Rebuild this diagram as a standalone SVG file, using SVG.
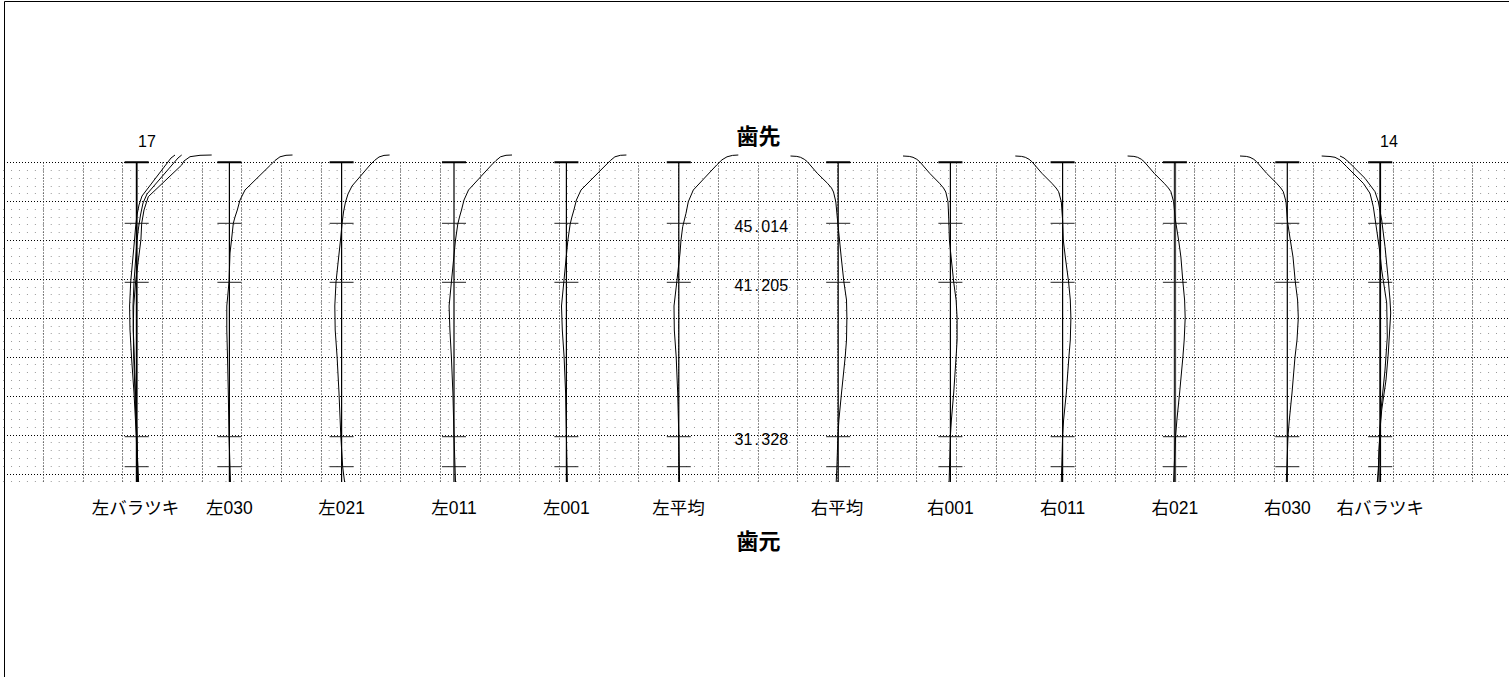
<svg xmlns="http://www.w3.org/2000/svg" width="1509" height="677" viewBox="0 0 1509 677">
<style>
.bg{fill:#fff}
.frame{fill:none;stroke:#000;stroke-width:1}
.gmaj{fill:none;stroke:#000;stroke-width:1;stroke-dasharray:1 2}
.gvmaj{fill:none;stroke:#222;stroke-width:1;stroke-dasharray:1 2}
.gmin{fill:none;stroke:#999;stroke-width:1;stroke-dasharray:1 6.941}
.axis{fill:none;stroke:#000;stroke-width:1.2}
.axisv{fill:none;stroke:#000;stroke-width:1.8}
.ttop{fill:none;stroke:#000;stroke-width:2}
.tick{fill:none;stroke:#222;stroke-width:1}
.crv{fill:none;stroke:#000;stroke-width:1;stroke-linejoin:round}
.lbl{font-family:"Liberation Sans","Noto Sans CJK JP",sans-serif;font-size:17.5px;fill:#000;text-anchor:middle}
.num{font-family:"Liberation Sans","Noto Sans CJK JP",sans-serif;font-size:16px;fill:#000}
.ttl{font-family:"Noto Sans CJK JP","Liberation Sans",sans-serif;font-size:22px;font-weight:bold;fill:#000;text-anchor:middle}
</style>
<rect class="bg" x="0" y="0" width="1509" height="677"/>
<path class="frame" d="M4.5,677V1.5H1509"/>
<g id="grid">
<path class="gmin" d="M3.1,170.5H1509M3.1,178.5H1509M3.1,186.5H1509M3.1,193.5H1509M3.1,209.5H1509M3.1,217.5H1509M3.1,224.5H1509M3.1,232.5H1509M3.1,248.5H1509M3.1,256.5H1509M3.1,263.5H1509M3.1,271.5H1509M3.1,287.5H1509M3.1,294.5H1509M3.1,302.5H1509M3.1,310.5H1509M3.1,326.5H1509M3.1,333.5H1509M3.1,341.5H1509M3.1,349.5H1509M3.1,364.5H1509M3.1,372.5H1509M3.1,380.5H1509M3.1,388.5H1509M3.1,403.5H1509M3.1,411.5H1509M3.1,419.5H1509M3.1,427.5H1509M3.1,442.5H1509M3.1,450.5H1509M3.1,458.5H1509M3.1,466.5H1509M3.1,481.5H1509"/>
<path class="gmaj" d="M4,162.5H1509M4,201.5H1509M4,240.5H1509M4,279.5H1509M4,318.5H1509M4,357.5H1509M4,396.5H1509M4,435.5H1509M4,474.5H1509"/>
<path class="gvmaj" d="M43.5,162.5V482M83.5,162.5V482M122.5,162.5V482M162.5,162.5V482M202.5,162.5V482M241.5,162.5V482M281.5,162.5V482M321.5,162.5V482M360.5,162.5V482M400.5,162.5V482M440.5,162.5V482M480.5,162.5V482M519.5,162.5V482M559.5,162.5V482M599.5,162.5V482M638.5,162.5V482M678.5,162.5V482M718.5,162.5V482M758.5,162.5V482M797.5,162.5V482M837.5,162.5V482M877.5,162.5V482M916.5,162.5V482M956.5,162.5V482M996.5,162.5V482M1035.5,162.5V482M1075.5,162.5V482M1115.5,162.5V482M1155.5,162.5V482M1194.5,162.5V482M1234.5,162.5V482M1274.5,162.5V482M1313.5,162.5V482M1353.5,162.5V482M1393.5,162.5V482M1433.5,162.5V482M1472.5,162.5V482"/>
</g>
<g id="axes">
<path class="axisv" d="M136.7,162.3V482M1380.2,162.3V482"/>
<path d="M1174.9,162.3V482" fill="none" stroke="#999" stroke-width="2.6"/>
<path class="axis" d="M229.4,162.3V482M341.6,162.3V482M454,162.3V482M566.4,162.3V482M678.8,162.3V482M838.2,162.3V482M950.4,162.3V482M1062.6,162.3V482M1174.9,162.3V482M1287.3,162.3V482"/>
<path class="ttop" d="M124.7,162.3h24M217.4,162.3h24M329.6,162.3h24M442,162.3h24M554.4,162.3h24M666.8,162.3h24M826.2,162.3h24M938.4,162.3h24M1050.6,162.3h24M1162.9,162.3h24M1275.3,162.3h24M1368.2,162.3h24"/>
<path class="tick" d="M124.7,223.3h24M217.4,223.3h24M329.6,223.3h24M442,223.3h24M554.4,223.3h24M666.8,223.3h24M826.2,223.3h24M938.4,223.3h24M1050.6,223.3h24M1162.9,223.3h24M1275.3,223.3h24M1368.2,223.3h24
M124.7,282.3h24M217.4,282.3h24M329.6,282.3h24M442,282.3h24M554.4,282.3h24M666.8,282.3h24M826.2,282.3h24M938.4,282.3h24M1050.6,282.3h24M1162.9,282.3h24M1275.3,282.3h24M1368.2,282.3h24
M124.7,436.7h24M217.4,436.7h24M329.6,436.7h24M442,436.7h24M554.4,436.7h24M666.8,436.7h24M826.2,436.7h24M938.4,436.7h24M1050.6,436.7h24M1162.9,436.7h24M1275.3,436.7h24M1368.2,436.7h24
M124.7,466.7h24M217.4,466.7h24M329.6,466.7h24M442,466.7h24M554.4,466.7h24M666.8,466.7h24M826.2,466.7h24M938.4,466.7h24M1050.6,466.7h24M1162.9,466.7h24M1275.3,466.7h24M1368.2,466.7h24"/>
</g>
<g id="connectors">
<path id="c-lvar-a" class="crv" d="M175,155L171,158L142,196L139,205L137,215L135.5,228L134.5,240L130.7,282L129.6,306L130,330L131.5,357L134,393L136.3,436L137.5,482"/>
<path id="c-lvar-b" class="crv" d="M181.7,155L178,158L147,194L143,203L140.5,215L138.5,228L137,240L134,282L133,306L133.3,330L134.3,357L135.5,393L137,436L138,482"/>
<path id="c-lvar-c" class="crv" d="M211.7,155L200,155.3L190,156.7L184,161L181.7,165L148.3,196.7L144,210L141.7,223.3L140.9,240L135.6,282L133.7,306L133.3,330L133.7,357L135,393L136.5,436L138.6,482"/>
<path id="c-l030" class="crv" d="M292.5,155L286,155.3L280,156.8L275,160.5L270.5,165L245,190L240,200L237.3,210L235,217L233.3,223.3L231.5,240L230,253L229,282L226.8,306L226.8,330L227.5,357L228.3,393L229,436L230.5,482"/>
<path id="c-l021" class="crv" d="M389.6,155L384,155.4L379,157L374.5,160.5L370,165L352,186L348,194L345.5,202L343.5,212L342,224L340.5,240L336,282L334.8,306L335.2,330L337.1,357L339,393L340.8,436L342.7,467L344.6,482"/>
<path id="c-l011" class="crv" d="M512,155L506,155.3L500.5,156.8L496,160.5L491.5,165L468.5,190L464,200L461.5,210L459.5,217L457.8,224L455.5,240L451.4,282L449.1,306L449.9,330L451.4,357L452.9,393L454,436L455.5,482"/>
<path id="c-l001" class="crv" d="M626.4,155L620.4,155.3L614.9,156.8L610.4,160.5L605.9,165L581,190L576.4,200L573.9,210L571.9,217L570.2,224L567.9,240L563.8,282L561.5,306L562.3,330L564.1,357L565.6,393L566.4,436L567.4,482"/>
<path id="c-lavg" class="crv" d="M738.3,155L732.5,155.4L727,156.8L722,159.8L716.7,165L693.3,190L688.3,201.7L686,213.3L682.7,226.7L681,240L680,253L677,280L674,306L674.3,330L676.2,357L677.7,393L678.8,436L679.6,482"/>
<path id="c-ravg" class="crv" d="M790.5,156L796.8,156.4L800.5,157.3L804.3,159.3L807.3,161.7L817.3,173.3L827.5,183.3L831.5,188L833.5,192L835.8,201.7L837.5,220L839.5,240L841.2,257L843.9,282L846.5,300L846.9,318L846.5,340L845.2,357L841.5,393L838.9,420L837.9,436L836.9,467L836.2,482"/>
<path id="c-r001" class="crv" d="M903,156L909.3,156.4L913,157.3L916.8,159.3L919.7,161.7L929.7,173.3L939.5,183.3L943.5,188L945.8,192L948,201.7L948.8,220L949.4,240L951.1,257L953.7,282L956.1,300L957.1,318L957.1,340L956.1,357L953.7,393L951.4,420L950.4,436L949.1,482"/>
<path id="c-r011" class="crv" d="M1015.3,156L1021.6,156.4L1025.3,157.3L1029.1,159.3L1031.9,161.7L1041.9,173.3L1051.9,183.3L1056.1,188L1058.6,191.7L1061.3,201.7L1062.6,220L1063.3,240L1065.3,257L1068.6,282L1070.3,300L1070.9,318L1070.3,340L1068.9,357L1066.3,393L1063.6,420L1062.6,436L1061.3,482"/>
<path id="c-r021" class="crv" d="M1127.6,156L1133.9,156.4L1137.6,157.3L1141.4,159.3L1144.2,161.7L1154.2,173.3L1164.2,183.3L1168.4,188L1170.9,191.7L1173.6,201.7L1175.4,220L1178.6,240L1180.9,257L1182.9,282L1184.6,300L1185.2,318L1184.2,340L1182.9,357L1179.6,393L1176.9,420L1175.6,436L1174.2,467L1173.6,482"/>
<path id="c-r030" class="crv" d="M1240,156L1246.3,156.4L1250,157.3L1253.8,159.3L1256.6,161.7L1266.6,173.3L1276.6,183.3L1280.8,188L1283.3,191.7L1286,201.7L1287.3,220L1290.3,240L1293,257L1295.3,282L1297.6,300L1298.3,318L1297,340L1295,357L1292,393L1289.3,420L1288,436L1286.3,482"/>
<path id="c-rvar-a" class="crv" d="M1321.7,156L1330,156.5L1335,157.3L1340,160L1346.7,166.7L1363.3,183.3L1370,193.3L1373.3,206.7L1376.7,230L1380,253.3L1381.7,270L1386.7,303L1387.3,337L1385,370L1381,410L1379,450L1378,482"/>
<path id="c-rvar-b" class="crv" d="M1340,156L1344,158L1348.3,161.7L1365,178.3L1375,191.7L1378.3,201.7L1381.7,220L1385,246.7L1388.3,280L1390,300L1390.7,313L1388.3,353L1386,380L1381.7,410L1380,430L1378.3,470L1377.3,482"/>
</g>
<g id="titles">
<text class="ttl" x="758.5" y="143.5">歯先</text>
<text class="ttl" x="758.5" y="548.5">歯元</text>
</g>
<g id="counts">
<text class="num" x="138" y="146.7">17</text>
<text class="num" x="1380" y="146.7">14</text>
</g>
<g id="values">
<text class="num" x="734.5" y="231.7">45<tspan dx="2.3">.</tspan><tspan dx="2.3">014</tspan></text>
<text class="num" x="734.5" y="290.7">41<tspan dx="2.3">.</tspan><tspan dx="2.3">205</tspan></text>
<text class="num" x="734.5" y="445">31<tspan dx="2.3">.</tspan><tspan dx="2.3">328</tspan></text>
</g>
<g id="node-lvar"><text class="lbl" x="135.5" y="514">左バラツキ</text></g>
<g id="node-l030"><text class="lbl" x="229.4" y="514">左030</text></g>
<g id="node-l021"><text class="lbl" x="341.6" y="514">左021</text></g>
<g id="node-l011"><text class="lbl" x="454" y="514">左011</text></g>
<g id="node-l001"><text class="lbl" x="566.4" y="514">左001</text></g>
<g id="node-lavg"><text class="lbl" x="678.5" y="514">左平均</text></g>
<g id="node-ravg"><text class="lbl" x="837" y="514">右平均</text></g>
<g id="node-r001"><text class="lbl" x="950.4" y="514">右001</text></g>
<g id="node-r011"><text class="lbl" x="1062.6" y="514">右011</text></g>
<g id="node-r021"><text class="lbl" x="1174.9" y="514">右021</text></g>
<g id="node-r030"><text class="lbl" x="1287.3" y="514">右030</text></g>
<g id="node-rvar"><text class="lbl" x="1380.2" y="514">右バラツキ</text></g>
</svg>
